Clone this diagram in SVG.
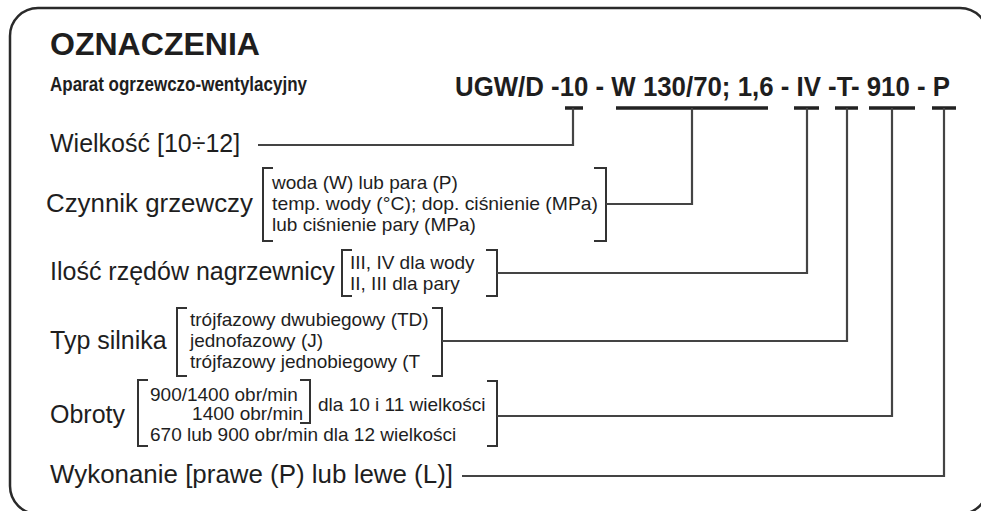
<svg xmlns="http://www.w3.org/2000/svg" width="981" height="511" viewBox="0 0 981 511">
<style>
.lbl{font-family:"Liberation Sans",Arial,sans-serif;font-size:25px;fill:#1e1e1e}
.sm{font-family:"Liberation Sans",Arial,sans-serif;font-size:19px;fill:#1e1e1e}
.b{font-family:"Liberation Sans",Arial,sans-serif;font-weight:bold;fill:#1e1e1e}
.br{fill:none;stroke:#333;stroke-width:2}
.tick{fill:none;stroke:#222;stroke-width:3.5}
.con{fill:none;stroke:#444;stroke-width:2.2}
</style>
<rect x="10" y="8" width="978" height="506" rx="28" ry="28" fill="#fff" stroke="#2a2a2a" stroke-width="2.5"/>
<g id="header">
<text class="b" x="50" y="55" font-size="31" textLength="210" lengthAdjust="spacingAndGlyphs">OZNACZENIA</text>
<text class="b" x="50" y="91" font-size="21" textLength="257" lengthAdjust="spacingAndGlyphs">Aparat ogrzewczo-wentylacyjny</text>
</g>
<g id="code">
<text class="b" x="455" y="96" font-size="27" textLength="495" lengthAdjust="spacingAndGlyphs">UGW/D -10 - W 130/70; 1,6 - IV -T- 910 - P</text>
<path class="tick" d="M565 108H583M616 108H768M794 108H819M835 108H858M869 108H915M932 108H956"/>
</g>
<g id="wielkosc">
<text class="lbl" x="50" y="152">Wielkość [10÷12]</text>
</g>
<g id="czynnik">
<text class="lbl" x="46" y="212" textLength="207" lengthAdjust="spacingAndGlyphs">Czynnik grzewczy</text>
<path class="br" d="M273 168H263V241H273M594 168H606V241H594"/>
<text class="sm" x="272" y="189">woda (W) lub para (P)</text>
<text class="sm" x="272" y="210" textLength="326" lengthAdjust="spacingAndGlyphs">temp. wody (°C); dop. ciśnienie (MPa)</text>
<text class="sm" x="272" y="231">lub ciśnienie pary (MPa)</text>
</g>
<g id="ilosc">
<text class="lbl" x="50" y="280">Ilość rzędów nagrzewnicy</text>
<path class="br" d="M352 250H342V296H352M486 250H497V296H486"/>
<text class="sm" x="350" y="269">III, IV dla wody</text>
<text class="sm" x="350" y="290">II, III dla pary</text>
</g>
<g id="typ">
<text class="lbl" x="50" y="349">Typ silnika</text>
<path class="br" d="M187 308H177V376H187M432 308H442V376H432"/>
<text class="sm" x="190" y="326">trójfazowy dwubiegowy (TD)</text>
<text class="sm" x="190" y="347">jednofazowy (J)</text>
<text class="sm" x="190" y="368">trójfazowy jednobiegowy (T</text>
</g>
<g id="obroty">
<text class="lbl" x="50" y="423">Obroty</text>
<path class="br" d="M148 380H138V446H148M487 381H497V446H487M300 380H310V423H300"/>
<text class="sm" x="150" y="401">900/1400 obr/min</text>
<text class="sm" x="303" y="420" text-anchor="end">1400 obr/min</text>
<text class="sm" x="318" y="411">dla 10 i 11 wielkości</text>
<text class="sm" x="150" y="441">670 lub 900 obr/min dla 12 wielkości</text>
</g>
<g id="wykonanie">
<text class="lbl" x="50" y="483" textLength="403" lengthAdjust="spacingAndGlyphs">Wykonanie [prawe (P) lub lewe (L)]</text>
</g>
<g id="connectors">
<path class="con" d="M573 108V145H258"/>
<path class="con" d="M692 108V204H606"/>
<path class="con" d="M807 108V273H497"/>
<path class="con" d="M847 108V341H442"/>
<path class="con" d="M892 108V416H497"/>
<path class="con" d="M944 108V476H462"/>
</g>
</svg>
